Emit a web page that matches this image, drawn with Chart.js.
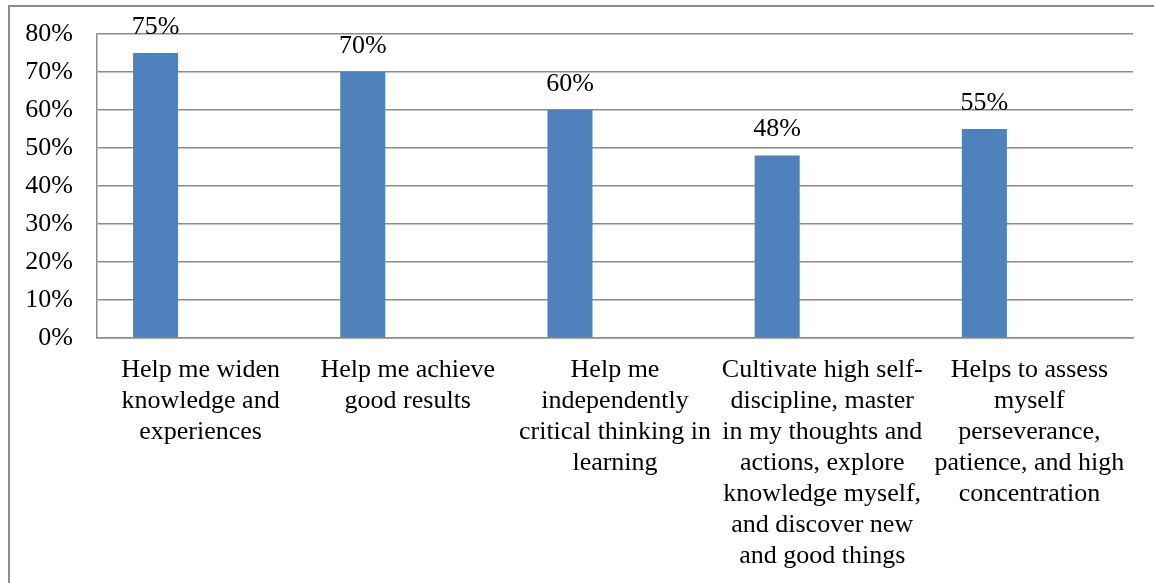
<!DOCTYPE html>
<html>
<head>
<meta charset="utf-8">
<script src="https://cdn.jsdelivr.net/npm/chart.js@4"></script>
<style>
  html, body { margin: 0; padding: 0; background: #fff; overflow: hidden; }
  #frame { position: absolute; left: 8px; top: 5px; width: 1300px; height: 700px; border: 2px solid #8c8c8c; }
  #wrap { position: absolute; left: 0; top: 0; width: 1154px; height: 583px; }
</style>
</head>
<body>
<div id="frame"></div>
<div id="wrap"><canvas id="barChart"></canvas></div>
<script>
// categories (wrapped as in the original)
const categories = [
    ['Help me widen', 'knowledge and', 'experiences'],
    ['Help me achieve', 'good results'],
    ['Help me', 'independently', 'critical thinking in', 'learning'],
    ['Cultivate high self-', 'discipline, master', 'in my thoughts and', 'actions, explore', 'knowledge myself,', 'and discover new', 'and good things'],
    ['Helps to assess', 'myself', 'perseverance,', 'patience, and high', 'concentration']
];
const shares = [0.75, 0.70, 0.60, 0.48, 0.55];
const emptySeries = [null, null, null, null, null];
const yTicks = [0, 0.1, 0.2, 0.3, 0.4, 0.5, 0.6, 0.7, 0.8];

const FONT = { family: '"Liberation Serif", "Times New Roman", serif', size: 26 };
const GRID = '#8c8c8c';

const pct = v => Math.round(v * 100) + '%';

// value labels above the bars
const valueLabels = {
    id: 'valueLabels',
    afterDatasetsDraw(chart) {
        const ctx = chart.ctx;
        const meta = chart.getDatasetMeta(0);
        ctx.save();
        ctx.font = FONT.size + 'px ' + FONT.family;
        ctx.fillStyle = '#000';
        ctx.textAlign = 'center';
        ctx.textBaseline = 'bottom';
        meta.data.forEach((bar, i) => {
            ctx.fillText(pct(shares[i]), bar.x, bar.y - 13);
        });
        ctx.restore();
    }
};

const ctx = document.getElementById('barChart').getContext('2d');
new Chart(ctx, {
    type: 'bar',
    data: {
        labels: categories,
        datasets: [
            { data: shares, backgroundColor: '#4f81bd', borderWidth: 0 },
            { data: emptySeries, backgroundColor: '#c0504d' },
            { data: emptySeries, backgroundColor: '#9bbb59' }
        ]
    },
    options: {
        responsive: true,
        maintainAspectRatio: false,
        animation: false,
        categoryPercentage: 0.652,
        barPercentage: 1,
        layout: { padding: { top: 34, right: 21, left: 0, bottom: 0 } },
        plugins: {
            legend: { display: false },
            tooltip: { enabled: false }
        },
        scales: {
            x: {
                grid: { display: false, drawTicks: false },
                border: { display: true, color: GRID, width: 1.5 },
                ticks: {
                    font: { family: FONT.family, size: FONT.size, lineHeight: 1.19 },
                    color: '#000',
                    padding: 17,
                    maxRotation: 0,
                    autoSkip: false
                },
                afterFit(scale) { scale.height = 245; }
            },
            y: {
                min: 0,
                max: 0.8,
                afterBuildTicks(scale) { scale.ticks = yTicks.map(v => ({ value: v })); },
                grid: { color: GRID, lineWidth: 1.5, drawTicks: false },
                border: { display: true, color: GRID, width: 1.5 },
                ticks: {
                    font: FONT,
                    color: '#000',
                    padding: 24,
                    callback: v => pct(v)
                },
                afterFit(scale) {
                    scale.width = 97;
                    scale.paddingTop = 0;
                    scale.paddingBottom = 0;
                }
            }
        }
    },
    plugins: [valueLabels]
});
</script>
</body>
</html>
